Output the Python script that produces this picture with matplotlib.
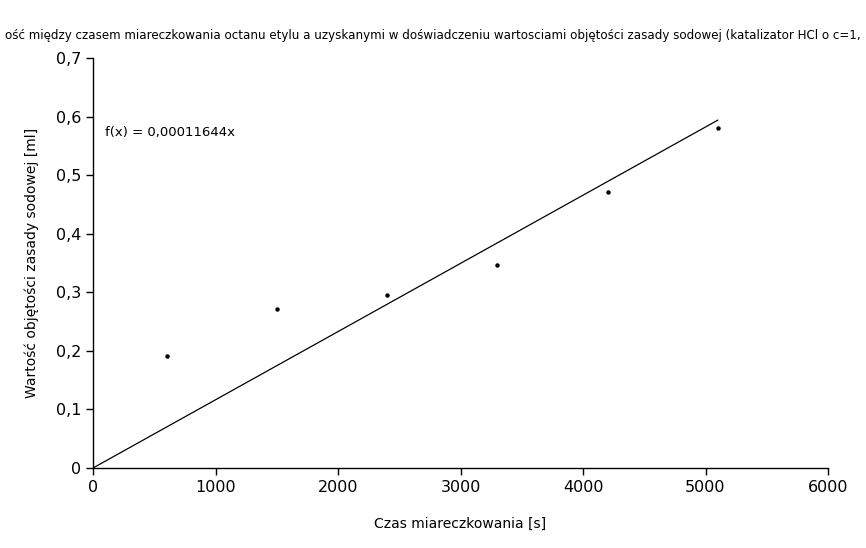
import matplotlib
matplotlib.use("Agg")
import matplotlib.pyplot as plt
from matplotlib.ticker import FuncFormatter

plt.rcParams['font.family'] = ['DejaVu Sans']

time_s = [600, 1500, 2400, 3300, 4200, 5100]
volume_ml = [0.191, 0.272, 0.296, 0.347, 0.471, 0.580]
slope = 0.00011644
x_ticks = [0, 1000, 2000, 3000, 4000, 5000, 6000]
y_ticks = [0, 0.1, 0.2, 0.3, 0.4, 0.5, 0.6, 0.7]

# Title as visible in the reference (it is cropped at both figure edges there)
title = ("ość między czasem miareczkowania octanu etylu a uzyskanymi w doświadczeniu "
         "wartosciami objętości zasady sodowej (katalizator HCl o c=1,")

fig = plt.figure(figsize=(8.66, 5.48), dpi=100)
ax = fig.add_axes([93/866, 1-468/548, (828-93)/866, (468-58)/548])

ax.plot(time_s, volume_ml, linestyle='none', marker='o', markersize=2.2, color='black')
fit_x = [0, time_s[-1]]
fit_y = [slope * v for v in fit_x]
ax.plot(fit_x, fit_y, color='black', linewidth=0.9)

ax.set_xlim(0, 6000)
ax.set_ylim(0, 0.7)
ax.set_xticks(x_ticks)
ax.set_yticks(y_ticks)
ax.yaxis.set_major_formatter(FuncFormatter(lambda v, p: "0" if v == 0 else f"{v:.1f}".replace('.', ',')))
ax.xaxis.set_major_formatter(FuncFormatter(lambda v, p: f"{int(v)}"))
ax.tick_params(direction='out', length=5, width=1, labelsize=11.5, colors='black')
for s in ['top', 'right']:
    ax.spines[s].set_visible(False)
for s in ['left', 'bottom']:
    ax.spines[s].set_linewidth(1)

ax.text(100, 0.573, "f(x) = 0,00011644x", fontsize=9.5, va='center', ha='left')
ax.set_xlabel("Czas miareczkowania [s]", fontsize=10, labelpad=16)
ax.set_ylabel("Wartość objętości zasady sodowej [ml]", fontsize=10, labelpad=12)

fig.text(0.5, 1-35/548, title, fontsize=8.6, ha='center', va='center')

fig.savefig("out.png", dpi=100)
